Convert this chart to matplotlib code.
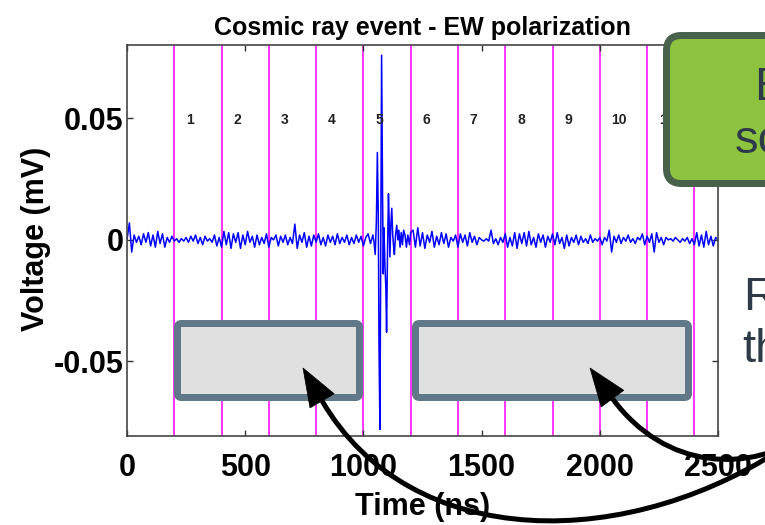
import numpy as np
import matplotlib
matplotlib.use("Agg")
import matplotlib.pyplot as plt
from matplotlib.patches import FancyBboxPatch, PathPatch, Polygon
from matplotlib.path import Path
from matplotlib.transforms import Affine2D

plt.rcParams['font.family'] = ['Liberation Sans', 'DejaVu Sans']

# ---- EW-polarization trace (microvolts) ----
# baseline before the pulse, sampled every 10 ns from t = 0
head_uv = [
    0, 7, -5, 2, -1, 1.5, -2, 2.5, -1, 3,
    -2.5, 2, -3, 3.5, -1.5, 2.5, -3, 1, -1, 1.5,
    -0.5, 0.5, -1, 0.5, -0.5, 1, -1, 1.5, -0.5, 2,
    -1.5, 1, -2, 1.5, -0.5, 0.5, -1, 2, -2.5, 1,
    -3, 3.5, -2, 3, -3.5, 2.5, -1, 3, -3.5, 2,
    -2, 3.5, -1, 1.5, -3, 2, -2, 1, -1.5, 2.5,
    -3, 1, 0, 2, -2.5, 1.5, -1, 2, -2, 1,
    -1.5, 6.5, -3.5, 2, -1, 3, -3, 1.5, -2.5, 2,
    -1, 2.5, -2, 1, -2.5, 2, -1, 1.5, -2, 2.5,
    -1.5, 1, -1, 2, -2, 1, -1.5, 2, -1, 1.5,
    -2.5, 1, 2.5, -1.5,
]
# the cosmic-ray pulse, finer sampling
pulse_t = [1040, 1045, 1050, 1055, 1059, 1063, 1066, 1070, 1074, 1077,
           1081, 1084, 1087, 1091, 1095, 1098, 1102, 1106, 1109, 1112,
           1116, 1120, 1124, 1128, 1131, 1136, 1141, 1146, 1150, 1155,
           1160, 1165, 1170, 1176, 1182, 1188, 1195, 1200]
pulse_uv = [2, -1, -6, 8, 36, 10, -44, -78, 10, 76,
            20, -14, 5, -10, -20, -38, -5, 19, 8, -7,
            6, 13, 2, -3, -6, 2, 6, 0, 4, -3,
            3, -2, 4, 2, -3, 2, -2, 3]
# baseline after the pulse, sampled every 10 ns from t = 1210
tail_uv = [
    4, -3, 5, -2.5, 3, -3.5, 2, -1, 3.5, -3,
    1.5, -2, 3, -1.5, 2.5, -3, 1, -0.5, 2, -3,
    2.5, -1, 2, -2.5, 3, -1, 1.5, -2, 1, 0,
    -0.5, 0.5, -0.5, 4, -1.5, 0.5, -2, 1, -1, 2.5,
    -3, 1, -2.5, 3, -3.5, 2.5, -1.5, 3, -2.5, 3.5,
    -2, 1, -3, 2.5, -1, 2, -3, 1.5, -1, 2.5,
    -2, 3, -1.5, 1, -3.5, 2, -2.5, 1, -1, 2,
    -2, 1.5, -1, 0.5, -1.5, 2, -1, 0.5, -0.5, 1,
    -2, 1, -0.5, 4, -5, 1.5, -1, 2, -1.5, 1,
    -0.5, 2, -1, 0.5, -1.5, 1, 0, 2.5, -2, 1.5,
    -1, 2.5, -5, 3, -1, 1, -2, 1, 0, 0.5,
    -0.5, 1, 0, -1, 0.5, -0.5, 1, -1.5, 0.5, -2,
    3, -2.5, 2, -3, 3.5, -2, 1.5, -2.5, 1, 0,
]

segment_edges_ns = [200, 400, 600, 800, 1000, 1200, 1400, 1600, 1800, 2000, 2200, 2400]
segment_labels = ['1', '2', '3', '4', '5', '6', '7', '8', '9', '10', '11']
x_ticks = [0, 500, 1000, 1500, 2000, 2500]
y_ticks = [-0.05, 0, 0.05]
y_tick_labels = ['-0.05', '0', '0.05']

time_ns = np.concatenate([
    np.arange(len(head_uv)) * 10.0,
    np.array(pulse_t, dtype=float),
    1210 + np.arange(len(tail_uv)) * 10.0,
])
voltage_mv = np.concatenate([head_uv, pulse_uv, tail_uv]) / 1000.0

# ---- figure ----
W, H = 765, 525
fig = plt.figure(figsize=(W / 100, H / 100), dpi=100)
fig.patch.set_facecolor('white')
# pixel coordinates with the origin at the top-left corner
px = Affine2D().scale(1 / 100, -1 / 100).translate(0, H / 100) + fig.dpi_scale_trans

ax = fig.add_axes([127 / W, 1 - 436 / H, (718 - 127) / W, (436 - 45) / H])
for edge in segment_edges_ns:
    ax.axvline(edge, color='#ff00ff', lw=1.1, zorder=1)
ax.plot(time_ns, voltage_mv, color='#0000ff', lw=1.1, zorder=2)
for edge, label in zip(segment_edges_ns, segment_labels):
    ax.text(edge + 50, 0.05, label, ha='left', va='center_baseline', fontsize=10,
            fontweight='bold', color='#222222', zorder=3)

ax.set_xlim(0, 2500)
ax.set_ylim(-0.0807, 0.0802)
ax.set_xticks(x_ticks)
ax.set_yticks(y_ticks)
ax.set_yticklabels(y_tick_labels)
ax.tick_params(direction='in', top=True, right=True, length=4, width=1.0,
               colors='#333333', labelcolor='black')
ax.tick_params(axis='x', pad=12.5, labelsize=22)
ax.tick_params(axis='y', pad=2.5, labelsize=22)
for lbl in ax.get_xticklabels() + ax.get_yticklabels():
    lbl.set_fontweight('bold')
for s in ax.spines.values():
    s.set_linewidth(1.2)
    s.set_color('#444444')
ax.set_title('Cosmic ray event - EW polarization', fontsize=18,
             fontweight='bold', pad=7)
ax.set_xlabel('Time (ns)', fontsize=22, fontweight='bold')
ax.set_ylabel('Voltage (mV)', fontsize=22, fontweight='bold')
ax.xaxis.set_label_coords(0.5, -0.143)
ax.yaxis.set_label_coords(-0.128, 0.505)

# ---- callout boxes ----
def rounded_box(x0, y0, x1, y1, face, edge, lw_px, radius, z):
    box = FancyBboxPatch((x0, y0), x1 - x0, y1 - y0,
                         boxstyle=f"round,pad=0,rounding_size={radius}",
                         facecolor=face, edgecolor=edge, linewidth=lw_px * 0.72,
                         transform=px, zorder=z)
    fig.add_artist(box)

rounded_box(177.5, 323.5, 359.5, 397.5, '#e0e0e0', '#607887', 7, 4, 5)
rounded_box(415.5, 323.5, 688.5, 397.5, '#e0e0e0', '#607887', 7, 4, 5)
rounded_box(666.5, 35.5, 960, 183.5, '#8cc43f', '#47614a', 7, 15, 5)

text_color = '#2e3a48'
fig.text(754, 100, 'E', transform=px, fontsize=34, color=text_color,
         ha='left', va='baseline', zorder=6)
fig.text(735, 153, 'sc', transform=px, fontsize=34, color=text_color,
         ha='left', va='baseline', zorder=6)
fig.text(743, 310, 'R', transform=px, fontsize=34, color=text_color,
         ha='left', va='baseline', zorder=6)
fig.text(742, 362, 'th', transform=px, fontsize=34, color=text_color,
         ha='left', va='baseline', zorder=6)

# ---- curved arrows ----
def curved_arrow(p0, c1, c2, tip, head_len=38, head_half=14, lw_px=5):
    c2 = np.asarray(c2, float)
    tip = np.asarray(tip, float)
    d = tip - c2
    d /= np.hypot(*d)
    base = tip - head_len * d
    shaft = Path([p0, c1, c2, base],
                 [Path.MOVETO, Path.CURVE4, Path.CURVE4, Path.CURVE4])
    fig.add_artist(PathPatch(shaft, facecolor='none', edgecolor='black',
                             linewidth=lw_px * 0.72, capstyle='butt',
                             transform=px, zorder=7))
    perp = np.array([-d[1], d[0]])
    head = Polygon([tip, base + head_half * perp, base - head_half * perp],
                   closed=True, facecolor='black', edgecolor='black',
                   linewidth=0.5, transform=px, zorder=8)
    fig.add_artist(head)

curved_arrow((795, 440), (630, 555), (410, 552), (303, 368))
curved_arrow((810, 432), (750, 475), (665, 470), (590, 368))

fig.savefig('out.png', dpi=100)
